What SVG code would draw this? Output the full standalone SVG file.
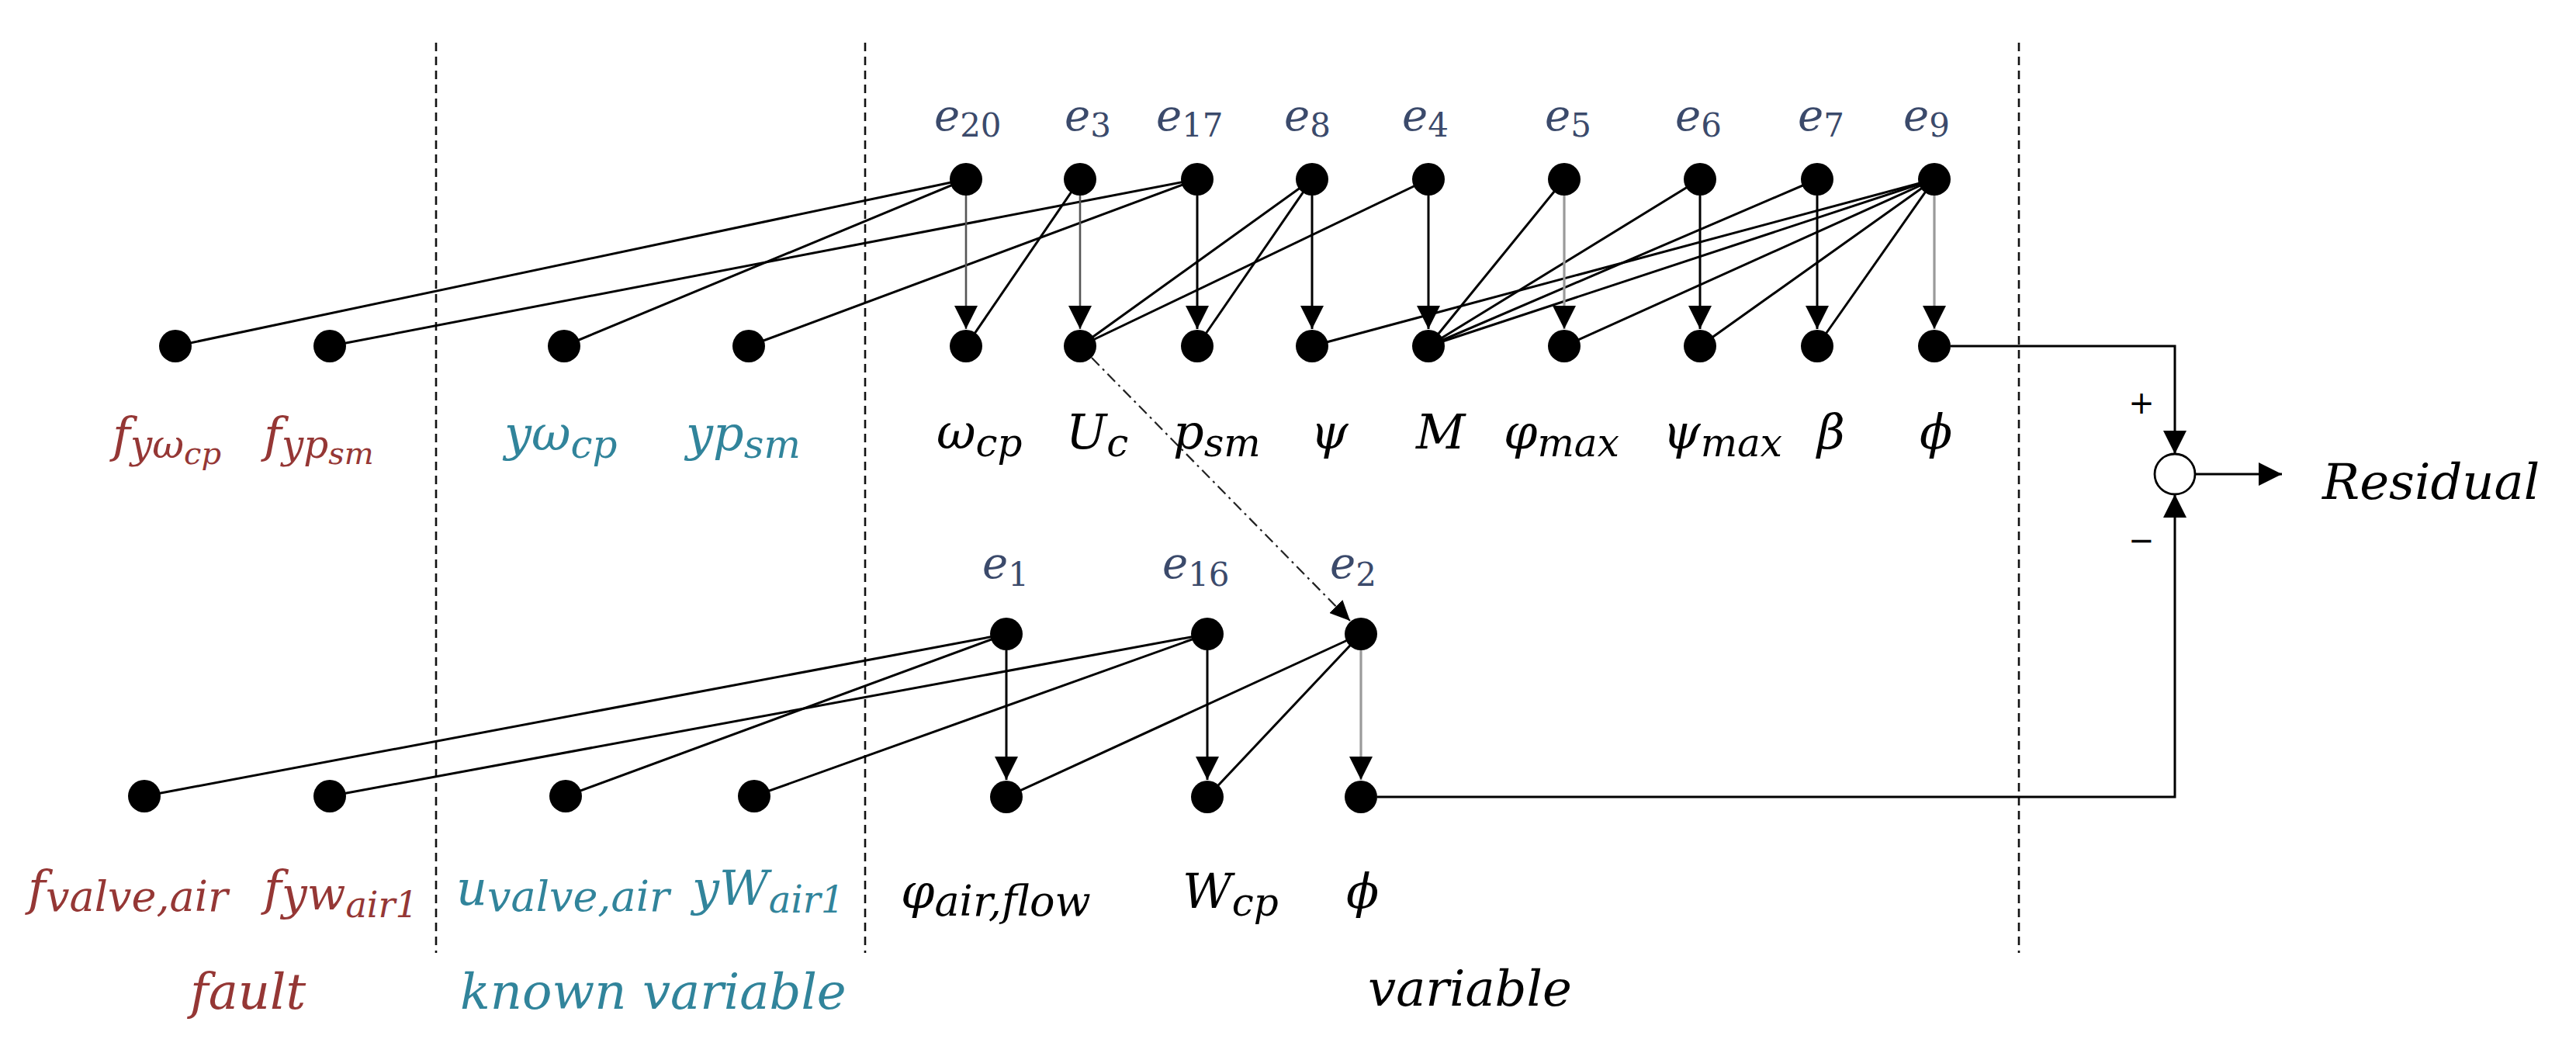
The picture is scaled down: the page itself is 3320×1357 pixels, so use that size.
<svg xmlns="http://www.w3.org/2000/svg" width="3320" height="1357" viewBox="0 0 3320 1357">
<defs>
<style>
.dot{fill:#000}
.t{font-family:"DejaVu Serif","Liberation Serif",serif;font-style:italic;font-size:62px;fill:#000}
.fault{fill:#953735}
.known{fill:#31849B}
.eq{font-family:"DejaVu Serif","Liberation Serif",serif;font-style:italic;font-size:56px;fill:#3B4A6B}
.num{font-style:normal;font-size:42px}
.sub{font-size:50px}
.ssub{font-size:40px}
.edge{stroke:#000;stroke-width:3;fill:none}
.arr{stroke:#000;stroke-width:3;fill:none;marker-end:url(#ah)}
.arrg{stroke:#9a9a9a;stroke-width:3.2;fill:none;marker-end:url(#ah)}
.arrd{stroke:#555;stroke-width:2.6;fill:none;marker-end:url(#ah)}
.sep{stroke:#111;stroke-width:2.6;stroke-dasharray:11 7;fill:none}
.dd{stroke:#222;stroke-width:2.2;stroke-dasharray:14 6 3 6;fill:none;marker-end:url(#ahs)}
.sig{font-family:"DejaVu Sans","Liberation Sans",sans-serif;font-size:40px;fill:#000}
</style>
<marker id="ah" viewBox="0 0 30 30" markerUnits="userSpaceOnUse" markerWidth="30" markerHeight="30" refX="30" refY="15" orient="auto"><path d="M0,0 L30,15 L0,30 z" fill="#000"/></marker>
<marker id="ahs" viewBox="0 0 26 24" markerUnits="userSpaceOnUse" markerWidth="26" markerHeight="24" refX="26" refY="12" orient="auto"><path d="M0,0 L26,12 L0,24 z" fill="#000"/></marker>
</defs>
<rect width="3320" height="1357" fill="#fff"/>

<g id="separators">
<line class="sep" x1="562" y1="55" x2="562" y2="1228"/>
<line class="sep" x1="1115" y1="55" x2="1115" y2="1228"/>
<line class="sep" x1="2602" y1="55" x2="2602" y2="1228"/>
</g>

<g id="connectors">
<line class="edge" x1="226" y1="446" x2="1245" y2="231"/>
<line class="edge" x1="727" y1="446" x2="1245" y2="231"/>
<line class="edge" x1="425" y1="446" x2="1543" y2="231"/>
<line class="edge" x1="965" y1="446" x2="1543" y2="231"/>
<line class="edge" x1="1392" y1="231" x2="1245" y2="446"/>
<line class="edge" x1="1691" y1="231" x2="1392" y2="446"/>
<line class="edge" x1="1691" y1="231" x2="1543" y2="446"/>
<line class="edge" x1="1841" y1="231" x2="1392" y2="446"/>
<line class="edge" x1="2016" y1="231" x2="1841" y2="446"/>
<line class="edge" x1="2191" y1="231" x2="1841" y2="446"/>
<line class="edge" x1="2342" y1="231" x2="1841" y2="446"/>
<line class="edge" x1="2493" y1="231" x2="1691" y2="446"/>
<line class="edge" x1="2493" y1="231" x2="1841" y2="446"/>
<line class="edge" x1="2493" y1="231" x2="2016" y2="446"/>
<line class="edge" x1="2493" y1="231" x2="2191" y2="446"/>
<line class="edge" x1="2493" y1="231" x2="2342" y2="446"/>
<line class="arrd" x1="1245" y1="252" x2="1245" y2="424"/>
<line class="arrd" x1="1392" y1="252" x2="1392" y2="424"/>
<line class="arr" x1="1543" y1="252" x2="1543" y2="424"/>
<line class="arr" x1="1691" y1="252" x2="1691" y2="424"/>
<line class="arr" x1="1841" y1="252" x2="1841" y2="424"/>
<line class="arrg" x1="2016" y1="252" x2="2016" y2="424"/>
<line class="arr" x1="2191" y1="252" x2="2191" y2="424"/>
<line class="arr" x1="2342" y1="252" x2="2342" y2="424"/>
<line class="arrg" x1="2493" y1="252" x2="2493" y2="424"/>
<line class="edge" x1="186" y1="1026" x2="1297" y2="817"/>
<line class="edge" x1="729" y1="1026" x2="1297" y2="817"/>
<line class="edge" x1="425" y1="1026" x2="1556" y2="817"/>
<line class="edge" x1="972" y1="1026" x2="1556" y2="817"/>
<line class="edge" x1="1754" y1="817" x2="1297" y2="1027"/>
<line class="edge" x1="1754" y1="817" x2="1556" y2="1027"/>
<line class="arr" x1="1297" y1="838" x2="1297" y2="1005"/>
<line class="arr" x1="1556" y1="838" x2="1556" y2="1005"/>
<line class="arrg" x1="1754" y1="838" x2="1754" y2="1005"/>
<line class="dd" x1="1407" y1="461" x2="1740" y2="800"/>
<path class="arr" d="M2514,446 H2803 V585"/>
<path class="arr" d="M1775,1027 H2803 V637"/>
<path class="arr" d="M2829,611 H2941"/>
</g>

<g id="sum">
<circle cx="2803" cy="611" r="26" fill="#fff" stroke="#000" stroke-width="2.8"/>
<text class="sig" x="2760" y="533" text-anchor="middle">+</text>
<text class="sig" x="2760" y="710" text-anchor="middle">−</text>
<text class="t" x="2993" y="643" style="font-size:64px">Residual</text>
</g>

<g id="n-fyomega"><circle class="dot" cx="226" cy="446" r="21"/><text class="t fault" x="145" y="582">f<tspan class="sub" dy="8">yω</tspan><tspan class="ssub" dy="8">cp</tspan></text></g>
<g id="n-fyp"><circle class="dot" cx="425" cy="446" r="21"/><text class="t fault" x="340" y="582">f<tspan class="sub" dy="8">yp</tspan><tspan class="ssub" dy="8">sm</tspan></text></g>
<g id="n-yomega"><circle class="dot" cx="727" cy="446" r="21"/><text class="t known" x="650" y="580">yω<tspan class="sub" dy="10">cp</tspan></text></g>
<g id="n-yp"><circle class="dot" cx="965" cy="446" r="21"/><text class="t known" x="884" y="580">yp<tspan class="sub" dy="10">sm</tspan></text></g>

<g id="n-e20"><circle class="dot" cx="1245" cy="231" r="21"/><text class="eq" x="1204" y="168">e<tspan class="num" dy="8">20</tspan></text></g>
<g id="n-e3"><circle class="dot" cx="1392" cy="231" r="21"/><text class="eq" x="1372" y="168">e<tspan class="num" dy="8">3</tspan></text></g>
<g id="n-e17"><circle class="dot" cx="1543" cy="231" r="21"/><text class="eq" x="1490" y="168">e<tspan class="num" dy="8">17</tspan></text></g>
<g id="n-e8"><circle class="dot" cx="1691" cy="231" r="21"/><text class="eq" x="1655" y="168">e<tspan class="num" dy="8">8</tspan></text></g>
<g id="n-e4"><circle class="dot" cx="1841" cy="231" r="21"/><text class="eq" x="1807" y="168">e<tspan class="num" dy="8">4</tspan></text></g>
<g id="n-e5"><circle class="dot" cx="2016" cy="231" r="21"/><text class="eq" x="1991" y="168">e<tspan class="num" dy="8">5</tspan></text></g>
<g id="n-e6"><circle class="dot" cx="2191" cy="231" r="21"/><text class="eq" x="2159" y="168">e<tspan class="num" dy="8">6</tspan></text></g>
<g id="n-e7"><circle class="dot" cx="2342" cy="231" r="21"/><text class="eq" x="2317" y="168">e<tspan class="num" dy="8">7</tspan></text></g>
<g id="n-e9"><circle class="dot" cx="2493" cy="231" r="21"/><text class="eq" x="2453" y="168">e<tspan class="num" dy="8">9</tspan></text></g>

<g id="n-omegacp"><circle class="dot" cx="1245" cy="446" r="21"/><text class="t" x="1207" y="578">ω<tspan class="sub" dy="10">cp</tspan></text></g>
<g id="n-Uc"><circle class="dot" cx="1392" cy="446" r="21"/><text class="t" x="1374" y="578">U<tspan class="sub" dy="10">c</tspan></text></g>
<g id="n-psm"><circle class="dot" cx="1543" cy="446" r="21"/><text class="t" x="1512" y="578">p<tspan class="sub" dy="10">sm</tspan></text></g>
<g id="n-psi"><circle class="dot" cx="1691" cy="446" r="21"/><text class="t" x="1689" y="578">ψ</text></g>
<g id="n-M"><circle class="dot" cx="1841" cy="446" r="21"/><text class="t" x="1825" y="578">M</text></g>
<g id="n-phimax"><circle class="dot" cx="2016" cy="446" r="21"/><text class="t" x="1938" y="578">φ<tspan class="sub" dy="10">max</tspan></text></g>
<g id="n-psimax"><circle class="dot" cx="2191" cy="446" r="21"/><text class="t" x="2143" y="578">ψ<tspan class="sub" dy="10">max</tspan></text></g>
<g id="n-beta"><circle class="dot" cx="2342" cy="446" r="21"/><text class="t" x="2342" y="578">β</text></g>
<g id="n-phi1"><circle class="dot" cx="2493" cy="446" r="21"/><text class="t" x="2474" y="578">ϕ</text></g>

<g id="n-fvalve"><circle class="dot" cx="186" cy="1026" r="21"/><text class="t fault" x="36" y="1166">f<tspan class="sub" dy="8" style="font-size:54px">valve,air</tspan></text></g>
<g id="n-fyw"><circle class="dot" cx="425" cy="1026" r="21"/><text class="t fault" x="340" y="1166">f<tspan class="sub" dy="6" style="font-size:58px">yw</tspan><tspan class="ssub" dy="10" style="font-size:46px">air1</tspan></text></g>
<g id="n-uvalve"><circle class="dot" cx="729" cy="1026" r="21"/><text class="t known" x="588" y="1166">u<tspan class="sub" dy="8" style="font-size:54px">valve,air</tspan></text></g>
<g id="n-yW"><circle class="dot" cx="972" cy="1026" r="21"/><text class="t known" x="892" y="1166">yW<tspan class="sub" dy="10" style="font-size:48px">air1</tspan></text></g>

<g id="n-e1"><circle class="dot" cx="1297" cy="817" r="21"/><text class="eq" x="1266" y="745">e<tspan class="num" dy="10">1</tspan></text></g>
<g id="n-e16"><circle class="dot" cx="1556" cy="817" r="21"/><text class="eq" x="1498" y="745">e<tspan class="num" dy="10">16</tspan></text></g>
<g id="n-e2"><circle class="dot" cx="1754" cy="817" r="21"/><text class="eq" x="1714" y="745">e<tspan class="num" dy="10">2</tspan></text></g>

<g id="n-phiair"><circle class="dot" cx="1297" cy="1027" r="21"/><text class="t" x="1161" y="1170">φ<tspan class="sub" dy="10" style="font-size:54px">air,flow</tspan></text></g>
<g id="n-Wcp"><circle class="dot" cx="1556" cy="1027" r="21"/><text class="t" x="1524" y="1170">W<tspan class="sub" dy="10">cp</tspan></text></g>
<g id="n-phi2"><circle class="dot" cx="1754" cy="1027" r="21"/><text class="t" x="1735" y="1170">ϕ</text></g>

<g id="categories">
<text class="t fault" x="245" y="1300" style="font-size:64px">fault</text>
<text class="t known" x="593" y="1300" style="font-size:64px">known variable</text>
<text class="t" x="1763" y="1296" style="font-size:64px">variable</text>
</g>
</svg>
